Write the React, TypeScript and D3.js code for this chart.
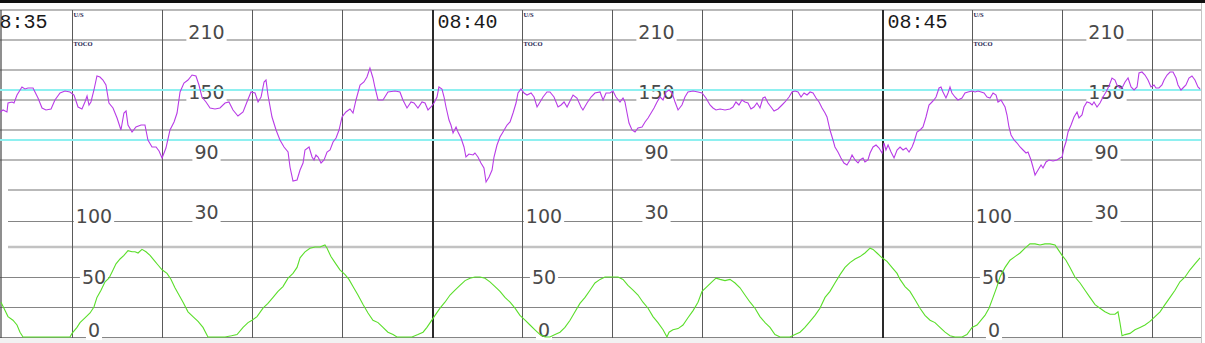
import React from "react";
import * as d3 from "d3";

// ---- data (seconds since 08:35:00, value) ----
const timeLabels = ["08:35", "08:40", "08:45"];
const blockStarts = [0, 300, 600]; // seconds of each 5-minute block
const fhrGrid = [240, 210, 180, 150, 120, 90, 60];
const fhrNormal = [160, 110];
const fhrLabels = [210, 150, 90, 30];
const tocoGrid = [100, 75, 50, 25, 0];
const tocoLabels = [100, 50, 0];
const minuteMarks = [60, 120, 180, 240, 300, 360, 420, 480, 540, 600, 660, 720, 780];

const fhrSeries: [number, number][] = [
  [11.7, 138], [13.7, 140], [16.3, 138], [17, 147], [19.7, 148], [21, 147], [23, 155], [26.3, 163],
  [28.3, 161], [30.3, 162], [33.7, 162], [35, 158], [37, 152], [39.7, 142], [42.3, 140], [45.7, 141],
  [48.3, 150], [51.7, 157], [55, 159], [58.3, 158], [61, 155], [63.7, 143], [66.3, 141], [68.3, 148],
  [69.7, 154], [71, 145], [72.3, 148], [74.3, 160], [76.3, 174], [78.3, 173], [80.3, 170], [82.3, 165],
  [84.3, 147], [87, 142], [89.7, 132], [92.3, 120], [94.3, 137], [95.7, 139], [97, 125], [99.7, 118],
  [102.3, 123], [105.7, 125], [108.3, 125], [110.3, 110], [113, 103], [115.7, 103], [117.7, 99], [119.7, 92],
  [122.3, 102], [125, 120], [127.7, 128], [129.7, 137], [131.7, 158], [134.3, 167], [137, 170], [139.7, 175],
  [142.3, 174], [144.3, 165], [146.3, 153], [149, 148], [151.7, 142], [155, 141], [158.3, 142], [161.7, 147],
  [164.3, 148], [167, 140], [170.3, 134], [173.7, 138], [176.3, 148], [179, 158], [181.7, 157], [183.7, 148],
  [185.7, 153], [187.7, 168], [189, 170], [190.3, 155], [193, 133], [195.7, 120], [198.3, 110], [201, 103],
  [203.7, 98], [205, 83], [207, 69], [209.7, 70], [211.7, 80], [213.7, 87], [215, 100], [217.7, 103],
  [219.7, 93], [221, 90], [222.3, 95], [223.7, 93], [225.7, 87], [227.7, 90], [229.7, 98], [231.7, 100],
  [233.7, 108], [235.7, 112], [237.7, 120], [239.7, 133], [242.3, 138], [245, 141], [247, 137], [249, 150],
  [251.7, 165], [254.3, 168], [256.3, 173], [258.3, 182], [260.3, 172], [261.7, 162], [263.7, 150], [267, 150],
  [270.3, 158], [275, 159], [278.3, 158], [280.3, 150], [283, 142], [285.7, 148], [287.7, 147], [290.3, 142],
  [293, 148], [295, 147], [297, 140], [299, 143], [301, 147], [303, 153], [304.3, 163], [306.3, 161],
  [307.7, 153], [309, 143], [311, 130], [312.3, 125], [313.7, 117], [315.7, 123], [317, 118], [319, 112],
  [321, 103], [322.3, 93], [324.3, 96], [327, 95], [328.3, 97], [330.3, 93], [332.3, 87], [334.3, 82],
  [335.7, 68], [337.7, 73], [339.7, 80], [341, 93], [343, 105], [345, 113], [347, 118], [349.7, 125],
  [351.7, 128], [353.7, 137], [355.7, 147], [357, 157], [359, 161], [361, 157], [363, 155], [365.7, 157],
  [367.7, 153], [369.7, 143], [371.7, 148], [373.7, 153], [376.3, 158], [378.3, 158], [381, 153], [383.7, 143],
  [385.7, 145], [387.7, 148], [389.7, 143], [391.7, 149], [393.7, 155], [396.3, 152], [399, 143], [400.3, 140],
  [403, 147], [405.7, 153], [408.3, 157], [411.7, 158], [413.7, 150], [415.7, 157], [418.3, 157], [420.3, 159],
  [422.3, 153], [425, 148], [427, 152], [428.3, 148], [429.7, 137], [431, 127], [433, 120], [435, 118],
  [437, 122], [439.7, 123], [441.7, 128], [443.7, 132], [445.7, 137], [447.7, 142], [449.7, 148], [451.7, 153],
  [453.7, 150], [455.7, 158], [457.7, 160], [459.7, 157], [461.7, 148], [463.7, 140], [466.3, 145], [468.3, 153],
  [470.3, 158], [473.7, 159], [477, 158], [479.7, 157], [482.3, 152], [485, 145], [487, 142], [489, 140],
  [491.7, 141], [495, 140], [498.3, 141], [500.3, 143], [502.3, 148], [504.3, 145], [506.3, 150], [508.3, 148],
  [510.3, 147], [512.3, 141], [514.3, 143], [516.3, 147], [518.3, 142], [520.3, 152], [521.7, 153], [523.7, 147],
  [525.7, 143], [527.7, 139], [530.3, 141], [533, 145], [535, 148], [537.7, 153], [539.7, 158], [541.7, 159],
  [543.7, 158], [545.7, 153], [547.7, 157], [549.7, 155], [551.7, 158], [553.7, 157], [555.7, 152], [557.7, 148],
  [559.7, 142], [561.7, 137], [563, 133], [565, 120], [567, 110], [568.3, 103], [570.3, 98], [572.3, 92],
  [574.3, 87], [576.3, 85], [578.3, 90], [579.7, 95], [581.7, 90], [583.7, 87], [585, 90], [587, 92],
  [588.3, 88], [590.3, 90], [591.7, 97], [593.7, 103], [595.7, 105], [597.7, 102], [599.7, 97], [601, 107],
  [602.3, 100], [603.7, 105], [605.7, 98], [607.7, 92], [609.7, 100], [611.7, 103], [613.7, 100], [615.7, 102],
  [617.7, 98], [619.7, 103], [621, 108], [623, 118], [625, 120], [627, 123], [629, 133], [631, 145],
  [633, 148], [634.3, 150], [635.7, 153], [637.7, 162], [639, 163], [640.3, 158], [642.3, 152], [643.7, 157],
  [645, 163], [646.3, 157], [648.3, 153], [650.3, 150], [653, 152], [655, 157], [657, 158], [659.7, 159],
  [661.7, 158], [663.7, 159], [665.7, 158], [667.7, 157], [669.7, 153], [671.7, 152], [673.7, 157], [675.7, 155],
  [677, 148], [679, 150], [681.7, 143], [683, 135], [684.3, 123], [685.7, 115], [687.7, 110], [689.7, 107],
  [691.7, 103], [693.7, 100], [695.7, 97], [697, 98], [699, 90], [700.3, 83], [701.7, 75], [703.7, 80],
  [705.7, 85], [707, 82], [709, 88], [711, 90], [713.7, 89], [716.3, 90], [718.3, 92], [719.7, 93],
  [721, 102], [722.3, 108], [723.7, 118], [725.7, 125], [727.7, 133], [729.7, 138], [731, 132], [733, 135],
  [734.3, 143], [736.3, 148], [738.3, 147], [739.7, 145], [741, 148], [743, 143], [745, 147], [747, 153],
  [749, 158], [751, 164], [753, 172], [755, 170], [756.3, 165], [758.3, 162], [759.7, 162], [761.7, 168],
  [763.7, 172], [765.7, 163], [767.7, 160], [769.7, 163], [771, 177], [773, 178], [775, 175], [777, 170],
  [779, 163], [781, 165], [782.3, 162], [784.3, 162], [786.3, 165], [787.7, 170], [789.7, 175], [791.7, 178],
  [793.7, 178], [795.7, 172], [797, 165], [799, 160], [800.3, 162], [802.3, 165], [804.3, 172], [806.3, 174],
  [808.3, 170], [810.3, 163], [811.7, 161],
];

const tocoSeries: [number, number][] = [
  [12.3, 29], [14.3, 24], [17, 17], [20.3, 14], [23, 10], [25, 4], [27, 0], [40, 0], [58.3, 0],
  [59.7, 3], [63, 8], [65, 12], [68.3, 16], [71.7, 20], [74.3, 25], [76.3, 33], [79, 39], [81.7, 46],
  [84.3, 49], [86.3, 54], [89, 61], [91.7, 65], [94.3, 68], [97, 72], [99.7, 71], [101.7, 71], [103.7, 70],
  [106.3, 73], [109, 71], [111.7, 68], [114.3, 64], [117, 60], [119.7, 56], [123, 53], [125.7, 48],
  [128.3, 41], [131, 35], [133.7, 29], [137, 21], [140.3, 17], [143.7, 13], [147, 8], [150.3, 0],
  [161.7, 0], [166, 1], [169.7, 2], [173.7, 8], [177, 12], [179.7, 14], [183, 17], [187, 24], [190.3, 28],
  [193.7, 33], [197, 38], [200.3, 42], [203.7, 49], [207, 53], [209.7, 58], [211.7, 66], [215, 71],
  [218.3, 74], [221.7, 75], [225, 75], [228.3, 77], [229.7, 74], [232.3, 67], [235, 62], [238.3, 56],
  [241.7, 52], [244.3, 48], [247, 42], [250.3, 35], [253.7, 27], [257, 20], [260.3, 14], [263.7, 12],
  [267, 8], [270.3, 4], [273.7, 2], [276.3, 0], [286.3, 0], [290.3, 2], [293.7, 4], [296.3, 8], [299, 13],
  [301.7, 18], [305, 24], [308.3, 29], [311.7, 35], [315, 39], [318.3, 43], [321.7, 47], [325, 49],
  [328.3, 50], [331.7, 50], [335, 49], [338.3, 46], [341.7, 42], [345, 38], [348.3, 33], [351.7, 29],
  [355, 24], [358.3, 18], [361.7, 14], [365, 10], [368.3, 6], [371.7, 2], [375, 0], [378.3, 0],
  [381.7, 2], [385, 4], [388.3, 8], [391.7, 14], [395, 21], [398.3, 28], [401.7, 33], [405, 39],
  [408.3, 45], [411.7, 48], [415, 50], [419.7, 50], [423.7, 50], [427, 48], [430.3, 43], [433.7, 39],
  [437, 35], [440.3, 29], [443.7, 24], [447, 17], [450.3, 12], [453.7, 6], [456.3, 0], [457.7, 4],
  [460.3, 6], [463.7, 7], [467, 10], [470.3, 16], [473.7, 22], [477, 29], [479.7, 38], [483, 42],
  [486.3, 46], [489, 49], [491.7, 48], [495, 47], [498.3, 48], [501.7, 45], [505, 41], [508.3, 35],
  [511.7, 29], [515, 24], [518.3, 17], [521.7, 12], [525, 8], [528.3, 2], [531.7, 0], [538.3, 0],
  [541.7, 2], [545, 4], [548.3, 8], [551.7, 13], [555, 18], [558.3, 24], [561.7, 33], [565, 38],
  [568.3, 45], [571.7, 52], [575, 58], [578.3, 62], [581.7, 65], [585, 67], [588.3, 70], [591.7, 74],
  [593.7, 73], [596.3, 70], [599.7, 66], [603, 63], [606.3, 58], [609.7, 53], [611.7, 48], [615, 42],
  [618.3, 38], [621.7, 31], [625, 24], [628.3, 18], [631.7, 14], [635, 12], [638.3, 8], [641.7, 4],
  [645, 1], [648.3, 0], [653, 0], [656.3, 2], [659.7, 8], [663, 10], [665.7, 14], [668.3, 18], [671, 24],
  [673.7, 33], [676.3, 42], [678.3, 50], [681.7, 58], [685, 64], [688.3, 67], [691.7, 70], [695, 74],
  [698.3, 78], [701.7, 78], [705, 77], [708.3, 78], [711.7, 78], [715, 77], [717, 73], [719.7, 68],
  [722.3, 64], [725, 58], [728.3, 50], [731.7, 45], [735, 39], [738.3, 33], [741.7, 27], [745, 24],
  [748.3, 21], [751.7, 19], [755, 19], [757, 21], [758.3, 12], [759.7, 1], [761.7, 2], [765, 3],
  [768.3, 6], [771.7, 8], [775, 10], [778.3, 13], [781.7, 17], [785, 21], [788.3, 27], [791.7, 33],
  [795, 39], [798.3, 46], [801.7, 50], [805, 56], [808.3, 61], [811.7, 66],
];

const W = 1205;
const H = 343;
const RIGHT = 1201;

export default function App() {
  const x = d3.scaleLinear().domain([0, 300]).range([-17.5, 432.5]);
  const fhrY = d3.scaleLinear().domain([60, 210]).range([190, 40]);
  const tocoY = d3.scaleLinear().domain([0, 75, 100]).range([337, 247, 221]);

  const fhrLine = d3
    .line<[number, number]>()
    .x((d) => x(d[0]))
    .y((d) => fhrY(d[1]));
  const tocoLine = d3
    .line<[number, number]>()
    .x((d) => x(d[0]))
    .y((d) => tocoY(d[1]));

  const digitW = 19 * 0.636;
  const tocoDy = [2, 7, 0];

  return (
    <svg
      width={W}
      height={H}
      style={{ position: "absolute", left: 0, top: 0, background: "#fff" }}
    >
      <defs>
        <clipPath id="plot">
          <rect x={0} y={0} width={RIGHT} height={338} />
        </clipPath>
      </defs>
      <rect x={0} y={0} width={W} height={H} fill="#fff" />
      <rect x={0} y={338} width={RIGHT} height={H - 338} fill="#f2f2f2" />
      {/* top black bar */}
      <rect x={0} y={0} width={W} height={3} fill="#111" />

      {/* FHR grid */}
      {fhrGrid.map((v) => (
        <line
          key={"fg" + v}
          x1={v === 60 ? 8 : 0}
          x2={RIGHT}
          y1={fhrY(v)}
          y2={fhrY(v)}
          stroke="#b9b9b9"
          strokeWidth={2}
        />
      ))}
      {/* TOCO grid */}
      {tocoGrid.map((v) => (
        <line
          key={"tg" + v}
          x1={v >= 75 ? 8 : 0}
          x2={RIGHT}
          y1={v === 75 ? tocoY(v) : tocoY(v) + 0.5}
          y2={v === 75 ? tocoY(v) : tocoY(v) + 0.5}
          stroke={v === 75 ? "#c2c2c2" : "#858585"}
          strokeWidth={v === 75 ? 2.5 : 1}
        />
      ))}

      {/* vertical minute lines */}
      {minuteMarks.map((t) => {
        const thick = t % 300 === 0;
        const xx = thick ? Math.round(x(t)) : x(t);
        return (
          <line
            key={"v" + t}
            x1={xx}
            x2={xx}
            y1={10}
            y2={338}
            stroke={thick ? "#2a2a2a" : "#5a5a5a"}
            strokeWidth={thick ? 2 : 1}
          />
        );
      })}
      <line x1={1} x2={1} y1={10} y2={338} stroke="#444" strokeWidth={1.2} />
      <line x1={RIGHT + 0.5} x2={RIGHT + 0.5} y1={3} y2={H} stroke="#c4c4c4" strokeWidth={1} />

      {/* labels per 5-minute block */}
      {blockStarts.map((b, i) => {
        const cx = x(b + 150) - 1;
        const tx = x(b + 75) - 1;
        return (
          <g key={"blk" + b}>
            <text
              x={x(b) + 5}
              y={28}
              fontFamily="Liberation Mono, DejaVu Sans Mono, monospace"
              fontSize={20}
              fill="#1a1a1a"
            >
              {timeLabels[i]}
            </text>
            <text
              x={x(b + 60) + 1}
              y={17}
              fontFamily="Liberation Serif, serif"
              fontSize={6.5}
              fontWeight="bold"
              fill="#1c1c50"
            >
              U/S
            </text>
            <text
              x={x(b + 60) + 1}
              y={46}
              fontFamily="Liberation Serif, serif"
              fontSize={6.5}
              fontWeight="bold"
              fill="#1c1c50"
            >
              TOCO
            </text>
            {fhrLabels.map((v) => {
              const s = String(v);
              const w = s.length * digitW + 4;
              const base = fhrY(v) - 1;
              return (
                <g key={"fl" + v}>
                  <rect x={cx - w / 2} y={base - 14} width={w} height={17} fill="#fff" />
                  <text
                    x={cx}
                    y={base}
                    textAnchor="middle"
                    fontFamily="DejaVu Sans, sans-serif"
                    fontSize={19}
                    fill="#4a4a4a"
                  >
                    {s}
                  </text>
                </g>
              );
            })}
            {tocoLabels.map((v, j) => {
              const s = String(v);
              const w = s.length * digitW + 4;
              const base = tocoY(v) + tocoDy[j];
              return (
                <g key={"tl" + v}>
                  <rect x={tx - w / 2} y={base - 14} width={w} height={17} fill="#fff" />
                  <text
                    x={tx}
                    y={base}
                    textAnchor="middle"
                    fontFamily="DejaVu Sans, sans-serif"
                    fontSize={19}
                    fill="#4a4a4a"
                  >
                    {s}
                  </text>
                </g>
              );
            })}
          </g>
        );
      })}

      {/* normal FHR band */}
      {fhrNormal.map((v) => (
        <line
          key={"n" + v}
          x1={0}
          x2={RIGHT}
          y1={fhrY(v)}
          y2={fhrY(v)}
          stroke="#8ef0f0"
          strokeWidth={2}
        />
      ))}

      <g clipPath="url(#plot)">
        <path d={fhrLine(fhrSeries) || ""} fill="none" stroke="#b83ce6" strokeWidth={1.1} />
        <path d={tocoLine(tocoSeries) || ""} fill="none" stroke="#5ade2a" strokeWidth={1.1} />
      </g>
    </svg>
  );
}
